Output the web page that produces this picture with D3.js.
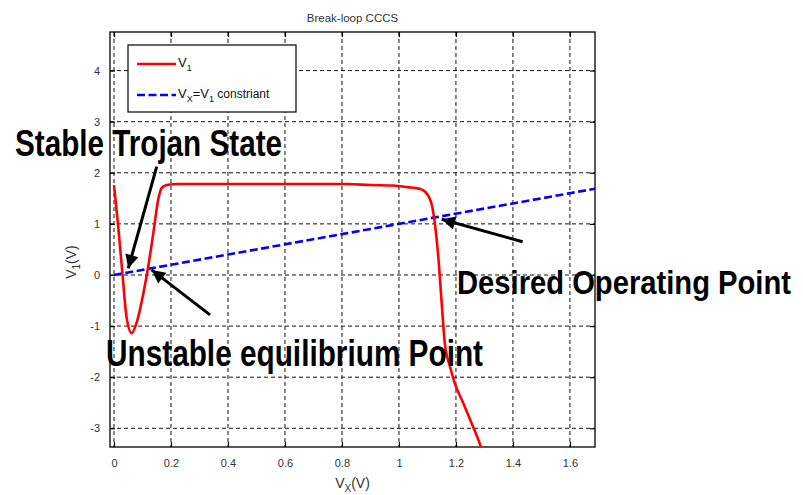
<!DOCTYPE html>
<html><head><meta charset="utf-8">
<script src="https://cdn.jsdelivr.net/npm/d3@7"></script>
<style>body{margin:0;background:#fff;}svg{display:block;font-family:"Liberation Sans",Arial,sans-serif;}</style>
</head><body>
<script>
// ---- data ----
const vxRed = [0, 0.015, 0.03, 0.044, 0.062, 0.079, 0.103, 0.12, 0.138, 0.155, 0.167, 0.185, 0.225, 0.5, 0.82, 0.9, 0.98, 1.03, 1.07, 1.09, 1.105, 1.115, 1.126, 1.138, 1.15, 1.161, 1.179, 1.196, 1.226, 1.255, 1.279, 1.29];
const v1Red = [1.76, 0.94, 0.0, -0.82, -1.14, -0.94, -0.36, 0.16, 0.82, 1.47, 1.70, 1.76, 1.78, 1.78, 1.78, 1.76, 1.75, 1.72, 1.69, 1.64, 1.53, 1.38, 1.01, 0.36, -0.55, -1.34, -1.79, -2.12, -2.51, -2.9, -3.23, -3.4];
const vxBlue = [0, 1.69];
const v1Blue = [0, 1.69];
const xTicks = [0, 0.2, 0.4, 0.6, 0.8, 1, 1.2, 1.4, 1.6];
const yTicks = [-3, -2, -1, 0, 1, 2, 3, 4];
const xDomain = [-0.014, 1.688];
const yDomain = [-3.366, 4.755];
// annotation arrows in data coordinates: tail -> tip
const arrows = [
  {x1: 0.15, y1: 2.12, x2: 0.05, y2: 0.13},
  {x1: 0.337, y1: -0.78, x2: 0.132, y2: 0.10},
  {x1: 1.434, y1: 0.65, x2: 1.15, y2: 1.09}
];
const labels = ["Stable Trojan State", "Unstable equilibrium Point", "Desired Operating Point"];

// ---- layout ----
const W = 803, H = 495;
const L = 110, R = 595, T = 32, B = 447;
const svg = d3.select("body").append("svg").attr("width", W).attr("height", H);
const x = d3.scaleLinear().domain(xDomain).range([L, R]);
const y = d3.scaleLinear().domain(yDomain).range([B, T]);

svg.append("defs").append("marker").attr("id", "ah")
  .attr("viewBox", "0 0 10 10").attr("refX", 10).attr("refY", 5)
  .attr("markerWidth", 5.5).attr("markerHeight", 4.5).attr("markerUnits", "strokeWidth")
  .attr("orient", "auto")
  .append("path").attr("d", "M0,0 L10,5 L0,10 Z").attr("fill", "#000");

// grid
const g = svg.append("g");
g.selectAll(".gx").data(xTicks).enter().append("line")
  .attr("x1", d => x(d)).attr("x2", d => x(d)).attr("y1", T).attr("y2", B)
  .attr("stroke", "#111").attr("stroke-width", 1).attr("stroke-dasharray", "4,3");
g.selectAll(".gy").data(yTicks).enter().append("line")
  .attr("x1", L).attr("x2", R).attr("y1", d => y(d)).attr("y2", d => y(d))
  .attr("stroke", "#111").attr("stroke-width", 1).attr("stroke-dasharray", "4,3");

// axes with inward ticks
const fmt = d => String(d);
const axB = svg.append("g").attr("transform", `translate(0,${B})`)
  .call(d3.axisBottom(x).tickValues(xTicks).tickFormat(fmt).tickSizeInner(-5).tickSizeOuter(0).tickPadding(12));
const axT = svg.append("g").attr("transform", `translate(0,${T})`)
  .call(d3.axisTop(x).tickValues(xTicks).tickFormat("").tickSizeInner(-5).tickSizeOuter(0));
const axL = svg.append("g").attr("transform", `translate(${L},0)`)
  .call(d3.axisLeft(y).tickValues(yTicks).tickFormat(fmt).tickSizeInner(-5).tickSizeOuter(0).tickPadding(10));
const axR = svg.append("g").attr("transform", `translate(${R},0)`)
  .call(d3.axisRight(y).tickValues(yTicks).tickFormat("").tickSizeInner(-5).tickSizeOuter(0));
[axB, axT, axL, axR].forEach(a => {
  a.select(".domain").remove();
  a.selectAll("line").attr("stroke", "#000").attr("stroke-width", 1.2);
  a.selectAll("text").attr("fill", "#333").attr("font-size", 11).attr("font-family", "Liberation Sans, Arial, sans-serif");
});
svg.append("rect").attr("x", L).attr("y", T).attr("width", R - L).attr("height", B - T)
  .attr("fill", "none").attr("stroke", "#000").attr("stroke-width", 1.3);

// clip
svg.append("clipPath").attr("id", "clip").append("rect").attr("x", L).attr("y", T).attr("width", R - L).attr("height", B - T);

// series
const redData = vxRed.map((v, i) => [v, v1Red[i]]);
const blueData = vxBlue.map((v, i) => [v, v1Blue[i]]);
const line = d3.line().x(d => x(d[0])).y(d => y(d[1]));
const cg = svg.append("g").attr("clip-path", "url(#clip)");
cg.append("path").datum(blueData).attr("d", line).attr("fill", "none")
  .attr("stroke", "#0000ff").attr("stroke-width", 2.6).attr("stroke-dasharray", "8,3.5");
cg.append("path").datum(redData).attr("d", d3.line().x(d => x(d[0])).y(d => y(d[1])).curve(d3.curveMonotoneX))
  .attr("fill", "none").attr("stroke", "#ff0000").attr("stroke-width", 2.6);

// title & axis labels
svg.append("text").attr("x", (L + R) / 2).attr("y", 22).attr("text-anchor", "middle")
  .attr("font-size", 11.5).attr("fill", "#333").text("Break-loop CCCS");
const xl = svg.append("text").attr("x", (L + R) / 2).attr("y", 488).attr("text-anchor", "middle")
  .attr("font-size", 14).attr("fill", "#333");
xl.append("tspan").text("V");
xl.append("tspan").attr("dy", 4).attr("font-size", 10).text("X");
xl.append("tspan").attr("dy", -4).text("(V)");
const yl = svg.append("text").attr("transform", `translate(76,${262}) rotate(-90)`).attr("text-anchor", "middle")
  .attr("font-size", 14).attr("fill", "#333");
yl.append("tspan").text("V");
yl.append("tspan").attr("dy", 4).attr("font-size", 10).text("1");
yl.append("tspan").attr("dy", -4).text("(V)");

// legend
const lg = svg.append("g");
lg.append("rect").attr("x", 128).attr("y", 45).attr("width", 168).attr("height", 67)
  .attr("fill", "#fff").attr("stroke", "#000").attr("stroke-width", 1.2);
lg.append("line").attr("x1", 137).attr("x2", 176).attr("y1", 64).attr("y2", 64)
  .attr("stroke", "#ff0000").attr("stroke-width", 2.6);
lg.append("line").attr("x1", 137).attr("x2", 176).attr("y1", 95).attr("y2", 95)
  .attr("stroke", "#0000ff").attr("stroke-width", 2.6).attr("stroke-dasharray", "8,3.5");
const t1 = lg.append("text").attr("x", 178).attr("y", 67).attr("font-size", 13).attr("fill", "#111");
t1.append("tspan").text("V");
t1.append("tspan").attr("dy", 4).attr("font-size", 9).text("1");
const t2 = lg.append("text").attr("x", 178).attr("y", 98).attr("font-size", 13).attr("fill", "#111");
t2.append("tspan").text("V");
t2.append("tspan").attr("dy", 4).attr("font-size", 9).text("X");
t2.append("tspan").attr("dy", -4).text("=V");
t2.append("tspan").attr("dy", 4).attr("font-size", 9).text("1");
t2.append("tspan").attr("dy", -4).attr("font-size", 12).text(" constriant");

// annotation text
const ann = [
  {t: labels[0], x: 15, y: 156, len: 267, fs: 37},
  {t: labels[1], x: 106, y: 366, len: 377, fs: 36},
  {t: labels[2], x: 457, y: 294, len: 334, fs: 34}
];
svg.selectAll(".ann").data(ann).enter().append("text")
  .attr("x", d => d.x).attr("y", d => d.y).attr("font-size", d => d.fs)
  .attr("font-weight", "bold").attr("fill", "#000")
  .attr("textLength", d => d.len).attr("lengthAdjust", "spacingAndGlyphs")
  .text(d => d.t);

// arrows
svg.selectAll(".arr").data(arrows).enter().append("line")
  .attr("x1", d => x(d.x1)).attr("y1", d => y(d.y1))
  .attr("x2", d => x(d.x2)).attr("y2", d => y(d.y2))
  .attr("stroke", "#000").attr("stroke-width", 3).attr("marker-end", "url(#ah)");
</script>
</body></html>
